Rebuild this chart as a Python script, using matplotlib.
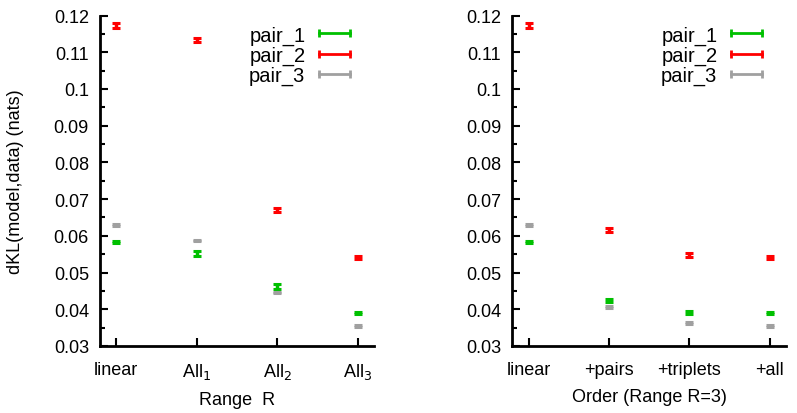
import matplotlib
matplotlib.use("Agg")
import matplotlib.pyplot as plt
from matplotlib.lines import Line2D
from matplotlib.ticker import MultipleLocator

plt.rcParams['font.family'] = ['Liberation Sans', 'DejaVu Sans']

left_labels = ['linear', 'All$_1$', 'All$_2$', 'All$_3$']
right_labels = ['linear', '+pairs', '+triplets', '+all']
series = ['pair_1', 'pair_2', 'pair_3']
colors = ['#00c000', '#ff0000', '#a0a0a0']

# left panel: Range R
left_vals = [
    [0.0583, 0.0551, 0.0461, 0.0389],   # pair_1
    [0.1173, 0.1133, 0.0670, 0.0541],   # pair_2
    [0.0629, 0.0587, 0.0445, 0.0355],   # pair_3
]
left_err = [
    [0.0003, 0.0007, 0.0007, 0.0003],
    [0.0006, 0.0006, 0.0006, 0.0005],
    [0.0003, 0.0002, 0.0002, 0.0003],
]
# right panel: Order (Range R=3)
right_vals = [
    [0.0583, 0.0425, 0.0392, 0.0389],
    [0.1173, 0.0616, 0.0548, 0.0541],
    [0.0629, 0.0406, 0.0362, 0.0355],
]
right_err = [
    [0.0003, 0.0004, 0.0004, 0.0003],
    [0.0006, 0.0006, 0.0006, 0.0005],
    [0.0003, 0.0002, 0.0003, 0.0003],
]

fig = plt.figure(figsize=(7.97, 4.14), dpi=100)
ax1 = fig.add_axes([0.1255, 0.162, 0.3435, 0.798])
ax2 = fig.add_axes([0.643, 0.162, 0.343, 0.798])


def panel(ax, labels, vals, errs, xlabel):
    x = list(range(len(labels)))
    for v, e, c in zip(vals, errs, colors):
        ax.errorbar(x, v, yerr=e, fmt='none', ecolor=c, elinewidth=2.5,
                    capsize=2.9, capthick=2.2)
    ax.set_xlim(-0.2, 3.2)
    ax.set_ylim(0.03, 0.12)
    ax.set_xticks(x)
    ax.set_xticklabels(labels)
    ax.set_yticks([0.03 + 0.01 * i for i in range(10)])
    ax.set_yticklabels(['0.03', '0.04', '0.05', '0.06', '0.07', '0.08',
                        '0.09', '0.1', '0.11', '0.12'])
    ax.yaxis.set_minor_locator(MultipleLocator(0.005))
    ax.tick_params(which='major', direction='in', length=6, width=1.5,
                   labelsize=13)
    ax.tick_params(axis='y', pad=8)
    ax.tick_params(axis='x', pad=11)
    ax.tick_params(which='minor', direction='in', length=3.5, width=1.5)
    ax.tick_params(axis='x', which='minor', bottom=False)
    for s in ['top', 'right']:
        ax.spines[s].set_visible(False)
    for s in ['left', 'bottom']:
        ax.spines[s].set_linewidth(2)
    ax.set_xlabel(xlabel, fontsize=13, labelpad=7)
    handles = [Line2D([], [], color=c, lw=2, marker='|', markersize=6,
                      mew=2) for c in colors]
    ax.legend(handles, series, loc='upper right', frameon=False,
              markerfirst=False, numpoints=2, fontsize=14.5,
              handlelength=2.1, handletextpad=0.4, labelspacing=0.05,
              bbox_to_anchor=(1.0, 1.025))


panel(ax1, left_labels, left_vals, left_err, 'Range  R')
panel(ax2, right_labels, right_vals, right_err, 'Order (Range R=3)')
ax1.set_ylabel('dKL(model,data) (nats)', fontsize=13, labelpad=21)

fig.savefig('out.png', dpi=100)
